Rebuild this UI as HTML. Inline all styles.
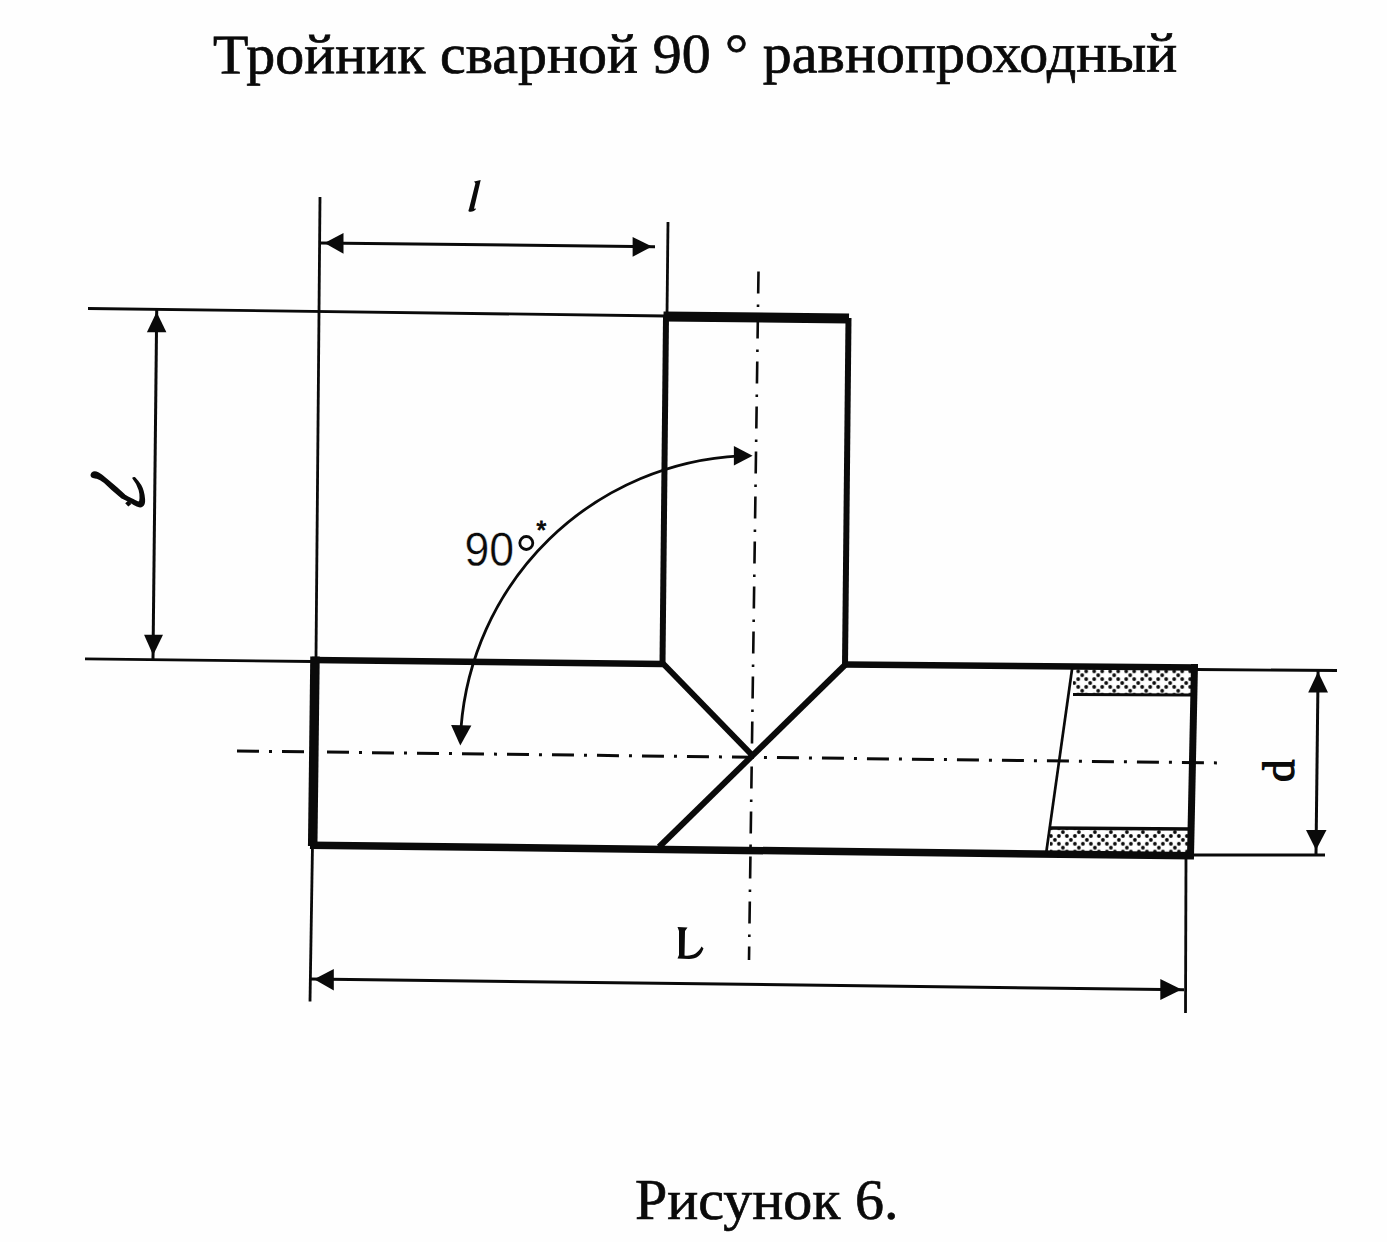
<!DOCTYPE html>
<html><head><meta charset="utf-8">
<style>
html,body{margin:0;padding:0;background:#fefefe;}
body{width:1387px;height:1242px;overflow:hidden;position:relative;}
svg{position:absolute;left:0;top:0;}
</style></head>
<body>
<svg width="1387" height="1242" viewBox="0 0 1387 1242">
<defs>
<pattern id="hatch" x="1054.9" y="832.1" width="16" height="15.6" patternUnits="userSpaceOnUse"><circle cx="8" cy="0" r="1.9" fill="#0a0a0a"/><circle cx="4" cy="3.9" r="1.9" fill="#0a0a0a"/><circle cx="12" cy="3.9" r="1.9" fill="#0a0a0a"/><circle cx="0" cy="7.8" r="1.9" fill="#0a0a0a"/><circle cx="16" cy="7.8" r="1.9" fill="#0a0a0a"/><circle cx="4" cy="11.7" r="1.9" fill="#0a0a0a"/><circle cx="12" cy="11.7" r="1.9" fill="#0a0a0a"/><circle cx="8" cy="15.6" r="1.9" fill="#0a0a0a"/></pattern>
<pattern id="hatch2" x="1074.2" y="675.2" width="16" height="15.6" patternUnits="userSpaceOnUse"><circle cx="8" cy="0" r="1.9" fill="#0a0a0a"/><circle cx="4" cy="3.9" r="1.9" fill="#0a0a0a"/><circle cx="12" cy="3.9" r="1.9" fill="#0a0a0a"/><circle cx="0" cy="7.8" r="1.9" fill="#0a0a0a"/><circle cx="16" cy="7.8" r="1.9" fill="#0a0a0a"/><circle cx="4" cy="11.7" r="1.9" fill="#0a0a0a"/><circle cx="12" cy="11.7" r="1.9" fill="#0a0a0a"/><circle cx="8" cy="15.6" r="1.9" fill="#0a0a0a"/></pattern>
</defs>

<!-- title -->
<text x="0" y="0" transform="rotate(-0.11 214 73.5) translate(213 73.5) scale(1.0357 1)" font-family="Liberation Serif" font-size="56" fill="#0a0a0a" stroke="#0a0a0a" stroke-width="0.7">Тройник сварной 90 ° равнопроходный</text>
<!-- caption -->
<text x="635" y="1218.6" font-family="Liberation Serif" font-size="58" fill="#0a0a0a" stroke="#0a0a0a" stroke-width="0.7">Рисунок 6.</text>

<g stroke="#0a0a0a" fill="none" stroke-linecap="butt">
<!-- thin extension lines -->
<line x1="320" y1="197" x2="316" y2="658" stroke-width="2.8"/>
<line x1="668" y1="222" x2="667" y2="316" stroke-width="2.8"/>
<line x1="88" y1="308.5" x2="666" y2="316" stroke-width="2.8"/>
<line x1="85" y1="658.8" x2="312" y2="661.5" stroke-width="2.8"/>
<line x1="1197" y1="669.5" x2="1337" y2="670.5" stroke-width="2.8"/>
<line x1="1190" y1="855" x2="1325" y2="855" stroke-width="2.8"/>
<line x1="312.5" y1="845" x2="310" y2="1001.5" stroke-width="2.8"/>
<line x1="1186" y1="855" x2="1185.5" y2="1013" stroke-width="2.8"/>

<!-- dimension lines -->
<line x1="320" y1="243" x2="655" y2="246.7" stroke-width="3"/>
<line x1="156.7" y1="310" x2="153" y2="659" stroke-width="3"/>
<line x1="1318.1" y1="670" x2="1316" y2="854" stroke-width="3"/>
<line x1="310" y1="979.1" x2="1184" y2="989.7" stroke-width="3"/>

<!-- thick outline -->
<line x1="663.5" y1="316.5" x2="849" y2="318.5" stroke-width="10"/>
<line x1="666" y1="317" x2="662.5" y2="664" stroke-width="6"/>
<line x1="848.5" y1="318" x2="845" y2="666" stroke-width="6"/>
<line x1="315" y1="656.5" x2="312.7" y2="846" stroke-width="9.5"/>
<line x1="312" y1="660" x2="663" y2="664" stroke-width="6.5"/>
<line x1="845" y1="664.5" x2="1198" y2="667.5" stroke-width="6.5"/>
<line x1="310" y1="845.2" x2="1194" y2="855.8" stroke-width="7.5"/>
<line x1="1194.5" y1="664" x2="1190.5" y2="856" stroke-width="7"/>
<line x1="662.5" y1="663" x2="751" y2="754" stroke-width="6"/>
<line x1="659" y1="847" x2="846" y2="664" stroke-width="6"/>

<!-- thin slanted -->
<line x1="1072.2" y1="668" x2="1045.9" y2="855" stroke-width="2.7"/>
<line x1="1073" y1="694.5" x2="1191" y2="695" stroke-width="3"/>
<line x1="1049" y1="828" x2="1191" y2="829" stroke-width="3.5"/>

<!-- centerlines -->
<line x1="237" y1="751" x2="1225" y2="763" stroke-width="3" stroke-dasharray="22 10 3 10"/>
<line x1="758.5" y1="271.6" x2="749" y2="960" stroke-width="2.6" stroke-dasharray="22 11 2.5 9.5"/>

<!-- arc -->
<path d="M 740 455.8 A 295 295 0 0 0 461 728" stroke-width="2.8"/>
</g>

<!-- hatched fills -->
<rect x="1073" y="669" width="118" height="25" fill="url(#hatch2)"/>
<rect x="1050" y="829" width="141" height="23" fill="url(#hatch)"/>

<!-- arrowheads -->
<g fill="#0a0a0a">
<polygon points="324.5,243 343.5,233 343.5,253.8"/>
<polygon points="652,246.6 632.6,236.9 632.6,256.8"/>
<polygon points="156.6,312 146.9,332.2 166.4,332.2"/>
<polygon points="153.1,655.2 144.1,634.7 163,634.7"/>
<polygon points="1318,671.7 1308.2,692.5 1328,692.5"/>
<polygon points="1316,850 1306,830 1326.5,830"/>
<polygon points="314.1,979.2 333.8,969.1 333.8,990.4"/>
<polygon points="1181.6,989.6 1160.3,979.1 1160.3,1000"/>
<polygon points="752.6,455.8 733.9,445.9 733.9,465.6"/>
<polygon points="460.3,745.5 451.1,725 471.4,725.5"/>
</g>

<!-- labels -->
<path d="M 474.2 181.6 L 480.7 179.9 L 474 208.8 L 476 208.4 C 475.8 210.3, 473.2 211.6, 469.6 211.7 C 468.4 211.6, 468.1 210.6, 469 209 L 475.4 183.6 C 475.1 182.9, 474.7 182.3, 474 181.6 Z" fill="#0a0a0a"/>
<path d="M 677.5 927 L 687.5 927.5 L 685 931 L 684.5 955.5 C 692 956.5, 698 953.5, 701.5 946.5 L 703.5 948.5 C 701 955, 697 959, 689 959 L 677.5 958.5 L 679 955 L 679 931 Z" fill="#0a0a0a"/>
<text transform="translate(1294,782) rotate(-90)" font-family="Liberation Serif" font-size="45" fill="#0a0a0a" stroke="#0a0a0a" stroke-width="1.2">d</text>
<text transform="translate(464.5,565.5) scale(0.93,1)" font-family="Liberation Sans" font-size="48" fill="#0a0a0a" stroke="#fefefe" stroke-width="0.4">90</text>
<circle cx="526.3" cy="543" r="6.5" stroke="#0a0a0a" stroke-width="2.8" fill="none"/>
<text x="536.5" y="538.5" font-family="Liberation Sans" font-size="25" fill="#0a0a0a" stroke="#0a0a0a" stroke-width="1">*</text>

<!-- script l -->
<path d="M 92 473.4 C 93.5 472, 95 472, 96.2 472.4 C 98 473, 99.5 474, 101.4 475.3 L 108.6 481.1 L 116.3 487.6 L 124.8 495.4 C 127 497, 129.5 498.2, 131.9 499.3 C 134 500.3, 136.5 501.8, 138.4 502.6 C 140 502, 140.5 500.5, 140.4 498 C 140.5 495, 140.2 492.5, 139.5 490 C 138.5 487, 136 481.5, 133.2 478.2 L 134.5 477.9 C 137 480.5, 139 483, 140.5 485.5 C 142.5 489, 143.8 494, 144.2 499.3 C 144.4 502.5, 143.5 505, 142.3 505.8 C 141.3 506.6, 140 506.7, 139.2 506.5 C 137.5 506, 136 505.3, 134.5 504.5 L 129.3 501.3 L 121.5 497.4 L 112.4 489.6 L 104.7 482.4 C 102 480.2, 99.5 478.5, 96.9 477.9 C 95 477.5, 93.2 477.5, 92.3 476.8 C 91.5 476, 91.3 474.5, 92 473.4 Z" fill="#0a0a0a" stroke="#0a0a0a" stroke-width="1.8" stroke-linejoin="round"/>
<polygon points="125.2,503.2 128.3,500.6 131.4,504 128.3,506.6" fill="#0a0a0a"/>
</svg>
</body></html>
